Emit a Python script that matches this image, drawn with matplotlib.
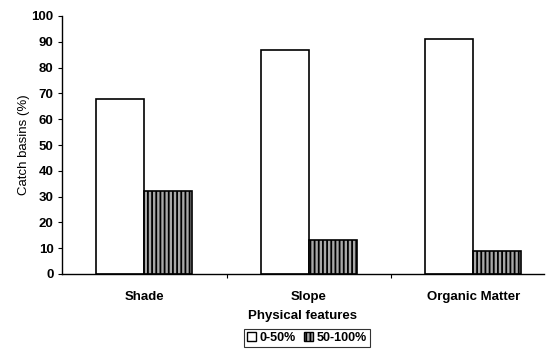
import numpy as np
import matplotlib
matplotlib.use("Agg")
from matplotlib import pyplot as plt
from matplotlib.patches import Patch

plt.rcParams['font.family'] = ['Liberation Sans', 'DejaVu Sans']
plt.rcParams['hatch.linewidth'] = 1.3

categories = ['Shade', 'Slope', 'Organic Matter']
low_vals = [68, 87, 91]    # 0-50%
high_vals = [32, 13, 9]    # 50-100%
yticks = [0, 10, 20, 30, 40, 50, 60, 70, 80, 90, 100]

fig = plt.figure(figsize=(5.51, 3.56), dpi=100)
ax = fig.add_axes([62 / 551, 1 - 274 / 356, (544 - 62) / 551, (274 - 16) / 356])

x = np.arange(len(categories))
w = 0.293
ax.bar(x - w / 2, low_vals, w, color='white', edgecolor='black', linewidth=1.2,
       label='0-50%')
ax.bar(x + w / 2, high_vals, w, color='#a8a8a8', edgecolor='black', linewidth=1.2,
       hatch='||||', label='50-100%')

ax.set_xlim(-0.5, 2.43)
ax.set_ylim(0, 100)
ax.set_yticks(yticks)
ax.set_yticklabels([str(t) for t in yticks], fontsize=9.5, fontweight='bold')

# category labels, ticks at group boundaries
ax.set_xticks([0.5, 1.5], minor=False)
ax.set_xticklabels([])
ax.tick_params(axis='x', length=3, direction='out')
ax.set_xticks(x, minor=True)
ax.set_xticklabels(categories, minor=True, fontsize=9.5, fontweight='bold')
ax.tick_params(axis='x', which='minor', length=0, pad=12)
ax.tick_params(axis='y', length=3, direction='out', pad=3)

for s in ['top', 'right']:
    ax.spines[s].set_visible(False)
ax.spines['left'].set_linewidth(1.0)
ax.spines['bottom'].set_linewidth(1.0)

ax.set_ylabel('Catch basins (%)', fontsize=9.5, labelpad=1)
ax.set_xlabel('Physical features', fontsize=9.5, fontweight='bold', labelpad=5)

handles = [Patch(facecolor='white', edgecolor='black', label='0-50%'),
           Patch(facecolor='#a8a8a8', edgecolor='black', hatch='||||', label='50-100%')]
leg = fig.legend(handles=handles, loc='center', bbox_to_anchor=(307 / 551, 1 - 338 / 356),
                 ncol=2, frameon=True, fancybox=False, edgecolor='black',
                 prop={'size': 9, 'weight': 'bold'}, handlelength=0.7, handleheight=0.7,
                 handletextpad=0.3, columnspacing=0.7, borderpad=0.25, borderaxespad=0)
leg.get_frame().set_linewidth(0.8)

fig.savefig('out.png', dpi=100)
